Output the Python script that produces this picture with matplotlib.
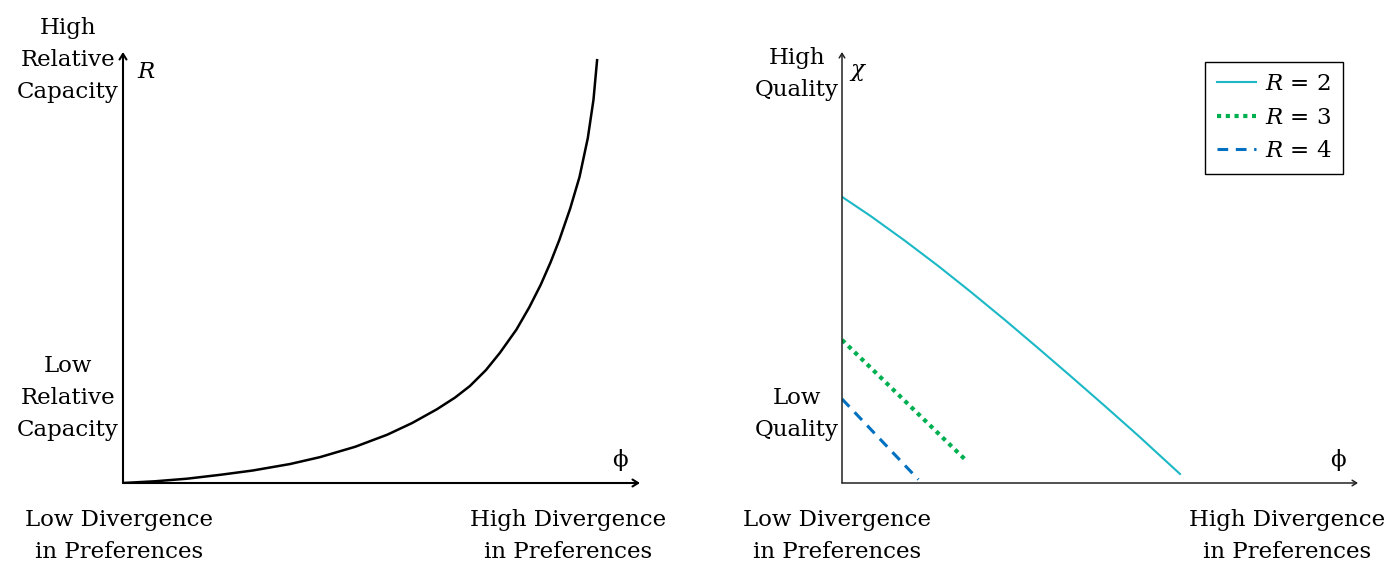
import matplotlib
matplotlib.use("Agg")
import matplotlib.pyplot as plt

plt.rcParams['font.family'] = ['DejaVu Serif']
plt.rcParams['mathtext.fontset'] = 'dejavuserif'

# left panel: relative capacity R vs divergence phi (axis units 0..1)
phi_left = [0, 0.062, 0.124, 0.188, 0.251, 0.323, 0.381, 0.449, 0.511,
            0.559, 0.607, 0.642, 0.671, 0.702, 0.729, 0.761, 0.786, 0.808,
            0.827, 0.844, 0.865, 0.883, 0.899, 0.910, 0.917]
R_left = [0, 0.004, 0.010, 0.019, 0.029, 0.044, 0.060, 0.084, 0.112,
          0.139, 0.171, 0.198, 0.225, 0.262, 0.302, 0.356, 0.408, 0.460,
          0.512, 0.564, 0.637, 0.710, 0.800, 0.889, 0.981]

# right panel: quality chi vs divergence phi for R = 2, 3, 4
phi_r2 = [0, 0.056, 0.122, 0.186, 0.250, 0.316, 0.380, 0.444, 0.510,
          0.574, 0.655]
chi_r2 = [0.664, 0.619, 0.562, 0.504, 0.443, 0.378, 0.313, 0.247, 0.178,
          0.110, 0.021]
phi_r3 = [0, 0.240]
chi_r3 = [0.332, 0.053]
phi_r4 = [0, 0.148]
chi_r4 = [0.195, 0.008]

W, H = 1389, 563
fig = plt.figure(figsize=(W / 100, H / 100), dpi=100)
FS = 16.5

def px_axes(x0, x1, y0, y1):
    return fig.add_axes([x0 / W, 1 - y0 / H, (x1 - x0) / W, (y0 - y1) / H])

def txt(x, y, s, **kw):
    fig.text(x / W, 1 - y / H, s, ha='center', va='center',
             fontsize=FS, linespacing=1.6, **kw)

def arrows(ax, lw, color, hw):
    style = dict(arrowstyle='->,head_length=%s,head_width=%s' % (hw * 1.6, hw),
                 lw=lw, color=color, shrinkA=0, shrinkB=0)
    ax.annotate('', xy=(1, 0), xytext=(0, 0), xycoords='axes fraction',
                arrowprops=style)
    ax.annotate('', xy=(0, 1), xytext=(0, 0), xycoords='axes fraction',
                arrowprops=style)

# ---- left
ax1 = px_axes(123, 640, 483, 52)
ax1.plot(phi_left, R_left, color='black', lw=1.8, solid_joinstyle='round')
ax1.set_xlim(0, 1); ax1.set_ylim(0, 1)
ax1.axis('off')
arrows(ax1, 1.5, 'black', 0.25)

txt(68, 60, 'High\nRelative\nCapacity')
txt(68, 398, 'Low\nRelative\nCapacity')
txt(146, 72, '$R$')
txt(620, 460, 'ϕ')
txt(119, 536, 'Low Divergence\nin Preferences')
txt(568, 536, 'High Divergence\nin Preferences')

# ---- right
ax2 = px_axes(842, 1358, 483, 52)
ax2.plot(phi_r2, chi_r2, color='#1BB8C6', lw=1.5, label='$R$ = 2',
         solid_joinstyle='round')
ax2.plot(phi_r3, chi_r3, color='#00B050', lw=3, linestyle=(0, (1, 1.1)),
         label='$R$ = 3')
ax2.plot(phi_r4, chi_r4, color='#0070C0', lw=2.2, linestyle=(0, (3.5, 2.5)),
         label='$R$ = 4')
ax2.set_xlim(0, 1); ax2.set_ylim(0, 1)
ax2.axis('off')
arrows(ax2, 1.1, '#222222', 0.2)

leg = ax2.legend(loc='upper right', bbox_to_anchor=(0.971, 0.977),
                 borderaxespad=0, fancybox=False, edgecolor='black',
                 framealpha=1, fontsize=FS, handlelength=1.7,
                 labelspacing=0.5, borderpad=0.5, handletextpad=0.4)
leg.get_frame().set_linewidth(1.0)

txt(797, 74, 'High\nQuality')
txt(797, 414, 'Low\nQuality')
txt(858, 72, '$\\chi$')
txt(1338, 460, 'ϕ')
txt(837, 536, 'Low Divergence\nin Preferences')
txt(1287, 536, 'High Divergence\nin Preferences')

fig.savefig('out.png', dpi=100)
